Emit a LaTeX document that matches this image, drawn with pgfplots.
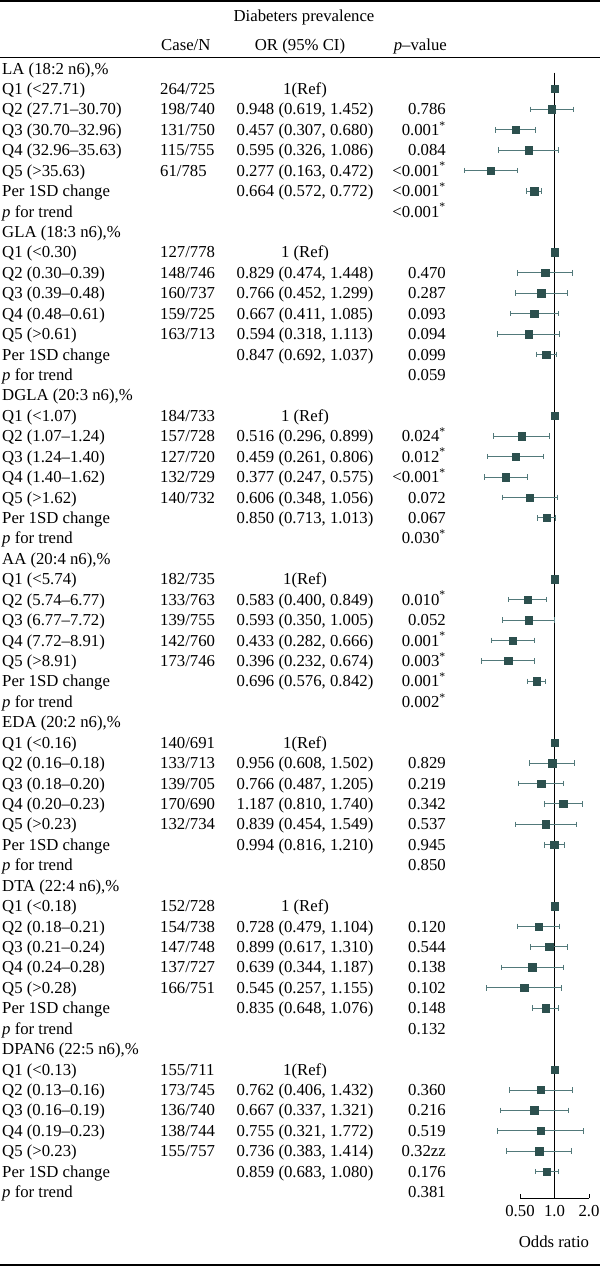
\documentclass[border=0pt]{standalone}
\usepackage{fontspec}
\setmainfont{Liberation Serif}
\usepackage{pgfplots}
\pgfplotsset{compat=1.18}
\usepackage{pgfplotstable}
\definecolor{sqc}{HTML}{2C504E}
\definecolor{barc}{HTML}{52797A}

\pgfplotstableread{
row or lo hi
1 1 1 1
2 0.948 0.619 1.452
3 0.457 0.307 0.680
4 0.595 0.326 1.086
5 0.277 0.163 0.472
6 0.664 0.572 0.772
9 1 1 1
10 0.829 0.474 1.448
11 0.766 0.452 1.299
12 0.667 0.411 1.085
13 0.594 0.318 1.113
14 0.847 0.692 1.037
17 1 1 1
18 0.516 0.296 0.899
19 0.459 0.261 0.806
20 0.377 0.247 0.575
21 0.606 0.348 1.056
22 0.850 0.713 1.013
25 1 1 1
26 0.583 0.400 0.849
27 0.593 0.350 1.005
28 0.433 0.282 0.666
29 0.396 0.232 0.674
30 0.696 0.576 0.842
33 1 1 1
34 0.956 0.608 1.502
35 0.766 0.487 1.205
36 1.187 0.810 1.740
37 0.839 0.454 1.549
38 0.994 0.816 1.210
41 1 1 1
42 0.728 0.479 1.104
43 0.899 0.617 1.310
44 0.639 0.344 1.187
45 0.545 0.257 1.155
46 0.835 0.648 1.076
49 1 1 1
50 0.762 0.406 1.432
51 0.667 0.337 1.321
52 0.755 0.321 1.772
53 0.736 0.383 1.414
54 0.859 0.683 1.080
}\forestdata

\newcommand\s{\textsuperscript{*}}
\newcommand\trow[5]{%
  \node[anchor=base west] at (2,{74+20.43*#1}) {#2};
  \node[anchor=base west] at (160,{74+20.43*#1}) {#3};
  \node[anchor=base] at (305,{74+20.43*#1}) {#4};
  \node[anchor=base east] at (446,{74+20.43*#1}) {#5};}

\begin{document}
\begin{tikzpicture}[font=\fontsize{16.8}{20}\selectfont]
\useasboundingbox (0,0) rectangle (600bp,-1266bp);
\begin{axis}[
  at={(520bp,-1198bp)}, anchor=south west,
  scale only axis, width=69bp, height=1125.5bp,
  xmode=log, xmin=0.5, xmax=2, ymin=0.2, ymax=55.29, y dir=reverse,
  axis x line=bottom, axis y line=none,
  axis line style={-, line width=0.8bp, black},
  xtick={0.5,1,2}, xticklabels={0.50,1.0,2.0}, minor xtick={},
  xtick align=inside, major tick length=4bp,
  tick style={black, line width=0.8bp},
  xticklabel style={font=\fontsize{16.8}{20}\selectfont, yshift=-3.5bp},
  clip=false,
]
\addplot[black, line width=1bp, forget plot] coordinates {(1,0.2) (1,55.29)};
% CI end caps
\addplot[only marks, mark=|, mark size=2.8bp, color=barc,
  mark options={line width=0.9bp}, forget plot]
  table[x=lo, y=row]{\forestdata};
\addplot[only marks, mark=|, mark size=2.8bp, color=barc,
  mark options={line width=0.9bp}, forget plot]
  table[x=hi, y=row]{\forestdata};
% CI lines and point estimates
\addplot[only marks, mark=square*, mark size=3.7bp, color=sqc,
  error bars/.cd, x dir=both, x explicit, error mark=none,
  error bar style={barc, line width=0.9bp}]
  table[x=or, y=row, x error plus expr={\thisrow{hi}-\thisrow{or}},
        x error minus expr={\thisrow{or}-\thisrow{lo}}]{\forestdata};
\end{axis}
\begin{scope}[x=1bp, y=-1bp, every node/.style={inner sep=0pt}]
\draw[line width=1.3bp] (0,1) -- (600,1);
\draw[line width=1bp] (0,57) -- (600,57);
\draw[line width=1.2bp] (0,1265) -- (600,1265);
\node[anchor=base] at (304,21) {Diabeters prevalence};
\node[anchor=base west] at (161,50) {Case/N};
\node[anchor=base] at (300,50) {OR (95\% CI)};
\node[anchor=base east] at (447,50) {\textit{p}–value};
\node[anchor=base] at (554,1247) {Odds ratio};
% LA
\trow{0}{LA (18:2 n6),\%}{}{}{}
\trow{1}{Q1 (<27.71)}{264/725}{1(Ref)}{}
\trow{2}{Q2 (27.71–30.70)}{198/740}{0.948 (0.619, 1.452)}{0.786}
\trow{3}{Q3 (30.70–32.96)}{131/750}{0.457 (0.307, 0.680)}{0.001\s}
\trow{4}{Q4 (32.96–35.63)}{115/755}{0.595 (0.326, 1.086)}{0.084}
\trow{5}{Q5 (>35.63)}{61/785}{0.277 (0.163, 0.472)}{<0.001\s}
\trow{6}{Per 1SD change}{}{0.664 (0.572, 0.772)}{<0.001\s}
\trow{7}{\textit{p} for trend}{}{}{<0.001\s}
% GLA
\trow{8}{GLA (18:3 n6),\%}{}{}{}
\trow{9}{Q1 (<0.30)}{127/778}{1 (Ref)}{}
\trow{10}{Q2 (0.30–0.39)}{148/746}{0.829 (0.474, 1.448)}{0.470}
\trow{11}{Q3 (0.39–0.48)}{160/737}{0.766 (0.452, 1.299)}{0.287}
\trow{12}{Q4 (0.48–0.61)}{159/725}{0.667 (0.411, 1.085)}{0.093}
\trow{13}{Q5 (>0.61)}{163/713}{0.594 (0.318, 1.113)}{0.094}
\trow{14}{Per 1SD change}{}{0.847 (0.692, 1.037)}{0.099}
\trow{15}{\textit{p} for trend}{}{}{0.059}
% DGLA
\trow{16}{DGLA (20:3 n6),\%}{}{}{}
\trow{17}{Q1 (<1.07)}{184/733}{1 (Ref)}{}
\trow{18}{Q2 (1.07–1.24)}{157/728}{0.516 (0.296, 0.899)}{0.024\s}
\trow{19}{Q3 (1.24–1.40)}{127/720}{0.459 (0.261, 0.806)}{0.012\s}
\trow{20}{Q4 (1.40–1.62)}{132/729}{0.377 (0.247, 0.575)}{<0.001\s}
\trow{21}{Q5 (>1.62)}{140/732}{0.606 (0.348, 1.056)}{0.072}
\trow{22}{Per 1SD change}{}{0.850 (0.713, 1.013)}{0.067}
\trow{23}{\textit{p} for trend}{}{}{0.030\s}
% AA
\trow{24}{AA (20:4 n6),\%}{}{}{}
\trow{25}{Q1 (<5.74)}{182/735}{1(Ref)}{}
\trow{26}{Q2 (5.74–6.77)}{133/763}{0.583 (0.400, 0.849)}{0.010\s}
\trow{27}{Q3 (6.77–7.72)}{139/755}{0.593 (0.350, 1.005)}{0.052}
\trow{28}{Q4 (7.72–8.91)}{142/760}{0.433 (0.282, 0.666)}{0.001\s}
\trow{29}{Q5 (>8.91)}{173/746}{0.396 (0.232, 0.674)}{0.003\s}
\trow{30}{Per 1SD change}{}{0.696 (0.576, 0.842)}{0.001\s}
\trow{31}{\textit{p} for trend}{}{}{0.002\s}
% EDA
\trow{32}{EDA (20:2 n6),\%}{}{}{}
\trow{33}{Q1 (<0.16)}{140/691}{1(Ref)}{}
\trow{34}{Q2 (0.16–0.18)}{133/713}{0.956 (0.608, 1.502)}{0.829}
\trow{35}{Q3 (0.18–0.20)}{139/705}{0.766 (0.487, 1.205)}{0.219}
\trow{36}{Q4 (0.20–0.23)}{170/690}{1.187 (0.810, 1.740)}{0.342}
\trow{37}{Q5 (>0.23)}{132/734}{0.839 (0.454, 1.549)}{0.537}
\trow{38}{Per 1SD change}{}{0.994 (0.816, 1.210)}{0.945}
\trow{39}{\textit{p} for trend}{}{}{0.850}
% DTA
\trow{40}{DTA (22:4 n6),\%}{}{}{}
\trow{41}{Q1 (<0.18)}{152/728}{1 (Ref)}{}
\trow{42}{Q2 (0.18–0.21)}{154/738}{0.728 (0.479, 1.104)}{0.120}
\trow{43}{Q3 (0.21–0.24)}{147/748}{0.899 (0.617, 1.310)}{0.544}
\trow{44}{Q4 (0.24–0.28)}{137/727}{0.639 (0.344, 1.187)}{0.138}
\trow{45}{Q5 (>0.28)}{166/751}{0.545 (0.257, 1.155)}{0.102}
\trow{46}{Per 1SD change}{}{0.835 (0.648, 1.076)}{0.148}
\trow{47}{\textit{p} for trend}{}{}{0.132}
% DPAN6
\trow{48}{DPAN6 (22:5 n6),\%}{}{}{}
\trow{49}{Q1 (<0.13)}{155/711}{1(Ref)}{}
\trow{50}{Q2 (0.13–0.16)}{173/745}{0.762 (0.406, 1.432)}{0.360}
\trow{51}{Q3 (0.16–0.19)}{136/740}{0.667 (0.337, 1.321)}{0.216}
\trow{52}{Q4 (0.19–0.23)}{138/744}{0.755 (0.321, 1.772)}{0.519}
\trow{53}{Q5 (>0.23)}{155/757}{0.736 (0.383, 1.414)}{0.32zz}
\trow{54}{Per 1SD change}{}{0.859 (0.683, 1.080)}{0.176}
\trow{55}{\textit{p} for trend}{}{}{0.381}
\end{scope}
\end{tikzpicture}
\end{document}
